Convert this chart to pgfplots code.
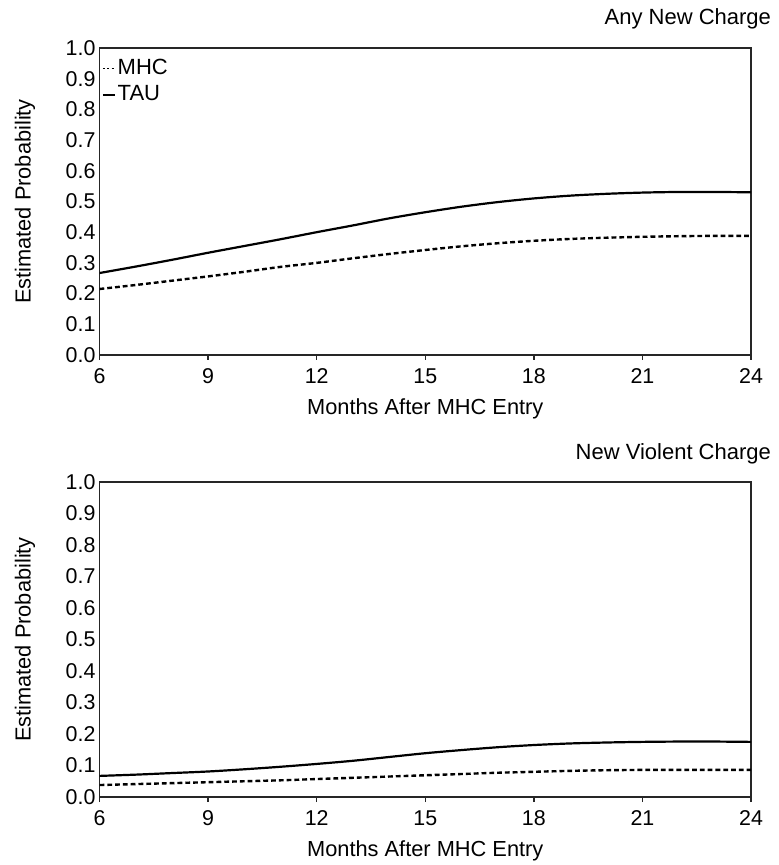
\documentclass[border=0pt]{standalone}
\usepackage{fontspec}
\setmainfont{Liberation Sans}
\usepackage{pgfplots}
\pgfplotsset{compat=1.18}

% estimated probabilities
\pgfplotstableread{
m   tau    mhc
6   0.267  0.215
7   0.288  0.228
8   0.310  0.242
9   0.333  0.256
10  0.355  0.271
11  0.377  0.287
12  0.400  0.300
13  0.422  0.315
14  0.445  0.329
15  0.465  0.342
16  0.483  0.354
17  0.498  0.364
18  0.510  0.372
19  0.519  0.378
20  0.525  0.382
21  0.529  0.385
22  0.531  0.387
23  0.531  0.388
24  0.530  0.388
}\anycharge
\pgfplotstableread{
m   tau    mhc
6   0.067  0.038
7   0.071  0.041
8   0.076  0.044
9   0.081  0.047
10  0.088  0.050
11  0.096  0.053
12  0.105  0.057
13  0.115  0.061
14  0.127  0.065
15  0.139  0.069
16  0.149  0.073
17  0.158  0.077
18  0.165  0.080
19  0.170  0.083
20  0.173  0.085
21  0.175  0.086
22  0.176  0.086
23  0.176  0.086
24  0.175  0.086
}\violent

\pgfplotsset{
  panel/.style={
    scale only axis, width=325.75pt,
    xmin=6, xmax=24, ymin=0, ymax=1,
    xtick={6,9,...,24}, ytick={0,0.1,...,1},
    tick align=outside, major tick length=2.5pt,
    xtick pos=bottom, ytick pos=left,
    axis line style={black!85, line width=0.8pt},
    tick style={black!85, line width=0.7pt},
    ytick style={draw=none},
    /pgf/number format/assume math mode=true,
    yticklabel style={/pgf/number format/fixed, /pgf/number format/fixed zerofill,
                      /pgf/number format/precision=1, xshift=4pt},
    ticklabel style={font=\fontsize{10.7}{12}\selectfont},
    xticklabel style={yshift=-1pt, text height=1.4ex},
    label style={font=\fontsize{10.9}{12}\selectfont},
    xlabel={Months After MHC Entry},
    ylabel={Estimated Probability},
    xlabel style={at={(axis description cs:0.5,0)}, anchor=center, yshift=-27pt},
    ylabel style={at={(axis description cs:-0.088,0.5)}, anchor=south},
    title style={at={(1,1)}, anchor=base east, xshift=13.5pt, yshift=5.5pt,
                 font=\fontsize{11}{13}\selectfont},
    tau/.style={black, line width=1.1pt, smooth},
    mhc/.style={black, line width=1.2pt, dash pattern=on 2.4pt off 1.5pt, smooth},
  }
}

\begin{document}
\begin{tikzpicture}
\path[use as bounding box] (0,0) rectangle (389pt,-432.5pt);

\begin{axis}[panel, at={(49.75pt,-24pt)}, anchor=north west, height=153.5pt,
  title={Any New Charge},
  legend style={at={(0,1)}, anchor=north west, draw=none, fill=none,
    inner sep=0pt, font=\fontsize{11}{12}\selectfont, row sep=0pt,
    column sep=0pt, yshift=-3.5pt, xshift=1pt,
    nodes={inner xsep=1pt}},
  legend cell align=left,
  legend image code/.code={\draw[#1, line width=0.9pt, dash pattern=on 1pt off 1.2pt] (0pt,0pt) -- (6pt,0pt);}]
\addplot[mhc] table[x=m, y=mhc] {\anycharge};
\addlegendentry{MHC}
\addplot[tau, legend image code/.code={\draw[black, line width=0.9pt] (0pt,0pt) -- (6pt,0pt);}]
  table[x=m, y=tau] {\anycharge};
\addlegendentry{TAU}
\end{axis}

\begin{axis}[panel, at={(49.75pt,-241pt)}, anchor=north west, height=157.5pt,
  title={New Violent Charge}]
\addplot[mhc] table[x=m, y=mhc] {\violent};
\addplot[tau] table[x=m, y=tau] {\violent};
\end{axis}
\end{tikzpicture}
\end{document}
